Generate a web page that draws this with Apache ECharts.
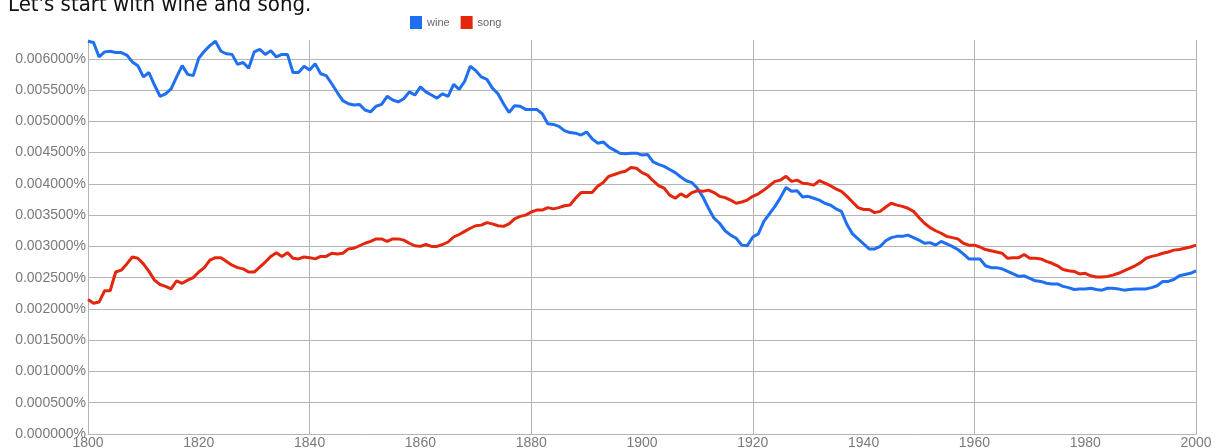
<!DOCTYPE html>
<html>
<head>
<meta charset="utf-8">
<script src="https://cdn.jsdelivr.net/npm/echarts@6/dist/echarts.min.js"></script>
<style>
html,body{margin:0;padding:0;background:#fff;}
#c{width:1217px;height:448px;}
</style>
</head>
<body>
<div id="c"></div>
<script>
const titleText = "Let's start with wine and song.";
const seriesNames = ['wine', 'song'];
const startYear = 1800;
const endYear = 2000;
const xTickYears = [1800, 1820, 1840, 1860, 1880, 1900, 1920, 1940, 1960, 1980, 2000];

const wine = [
  0.00628,0.00626,0.00603,0.00611,0.00612,0.0061,0.0061,0.00606,0.00595,0.00589,
  0.00571,0.00578,0.00558,0.0054,0.00544,0.00552,0.00571,0.00589,0.00575,0.00573,
  0.00601,0.00612,0.00621,0.00628,0.00612,0.00608,0.00607,0.00591,0.00594,0.00585,
  0.00611,0.00615,0.00607,0.00613,0.00603,0.00607,0.00607,0.00578,0.00578,0.00588,
  0.00582,0.00592,0.00576,0.00573,0.0056,0.00546,0.00533,0.00528,0.00526,0.00527,
  0.00518,0.00515,0.00524,0.00527,0.0054,0.00534,0.00531,0.00536,0.00547,0.00542,
  0.00555,0.00547,0.00542,0.00537,0.00544,0.0054,0.00559,0.00551,0.00564,0.00588,
  0.00581,0.00571,0.00567,0.00553,0.00544,0.00528,0.00514,0.00525,0.00524,0.00519,
  0.00519,0.00519,0.00512,0.00496,0.00495,0.00492,0.00485,0.00482,0.00481,0.00478,
  0.00483,0.00472,0.00465,0.00467,0.00459,0.00454,0.00449,0.00448,0.00449,0.00449,
  0.00446,0.00447,0.00435,0.00431,0.00428,0.00423,0.00418,0.00411,0.00405,0.00402,
  0.00393,0.00379,0.00361,0.00345,0.00337,0.00325,0.00318,0.00313,0.00302,0.00301,
  0.00315,0.0032,0.0034,0.00352,0.00364,0.00378,0.00394,0.00388,0.00389,0.00379,
  0.0038,0.00377,0.00374,0.00369,0.00366,0.0036,0.00356,0.00335,0.0032,0.00312,
  0.00304,0.00296,0.00296,0.003,0.00309,0.00314,0.00316,0.00316,0.00318,0.00314,
  0.0031,0.00305,0.00306,0.00302,0.00308,0.00304,0.003,0.00295,0.00288,0.0028,
  0.0028,0.0028,0.00269,0.00266,0.00266,0.00264,0.0026,0.00256,0.00252,0.00253,
  0.00249,0.00245,0.00244,0.00241,0.0024,0.0024,0.00236,0.00234,0.00231,0.00232,
  0.00232,0.00233,0.00231,0.0023,0.00233,0.00233,0.00232,0.0023,0.00231,0.00232,
  0.00232,0.00232,0.00234,0.00237,0.00244,0.00244,0.00247,0.00253,0.00255,0.00257,
  0.00261
];

const song = [
  0.00215,0.00209,0.00211,0.00229,0.00229,0.00259,0.00262,0.00272,0.00283,0.00281,
  0.00272,0.0026,0.00246,0.00239,0.00236,0.00232,0.00245,0.00241,0.00246,0.0025,
  0.00259,0.00266,0.00278,0.00282,0.00282,0.00276,0.0027,0.00266,0.00264,0.00259,
  0.00259,0.00267,0.00275,0.00284,0.0029,0.00284,0.0029,0.00281,0.0028,0.00283,
  0.00282,0.0028,0.00284,0.00284,0.00289,0.00288,0.00289,0.00296,0.00297,0.00301,
  0.00305,0.00308,0.00312,0.00312,0.00308,0.00312,0.00312,0.0031,0.00305,0.00301,
  0.003,0.00303,0.003,0.003,0.00303,0.00307,0.00315,0.00319,0.00324,0.00329,
  0.00333,0.00334,0.00338,0.00336,0.00333,0.00332,0.00336,0.00344,0.00348,0.0035,
  0.00355,0.00358,0.00358,0.00362,0.0036,0.00362,0.00365,0.00366,0.00377,0.00386,
  0.00386,0.00386,0.00396,0.00402,0.00412,0.00415,0.00418,0.0042,0.00426,0.00425,
  0.00418,0.00414,0.00405,0.00397,0.00393,0.00382,0.00377,0.00384,0.00379,0.00386,
  0.00389,0.00388,0.0039,0.00386,0.0038,0.00378,0.00374,0.00369,0.00371,0.00374,
  0.0038,0.00384,0.0039,0.00397,0.00404,0.00406,0.00412,0.00404,0.00406,0.00401,
  0.004,0.00398,0.00405,0.00401,0.00397,0.00392,0.00388,0.0038,0.00371,0.00362,
  0.00359,0.00359,0.00354,0.00356,0.00363,0.00369,0.00366,0.00364,0.00361,0.00356,
  0.00346,0.00337,0.0033,0.00325,0.00321,0.00316,0.00314,0.00312,0.00305,0.00302,
  0.00302,0.00299,0.00295,0.00293,0.00291,0.00289,0.00281,0.00282,0.00282,0.00287,
  0.00281,0.00281,0.0028,0.00276,0.00273,0.00269,0.00263,0.00261,0.0026,0.00256,
  0.00257,0.00253,0.00251,0.00251,0.00252,0.00254,0.00257,0.00261,0.00265,0.00269,
  0.00274,0.00281,0.00284,0.00286,0.00289,0.00291,0.00294,0.00295,0.00297,0.00299,
  0.00302
];

const toPairs = arr => arr.map((v, i) => [startYear + i, v]);
const gridColor = '#b4b4b4';
const labelColor = '#7a7a7a';
const labelFont = 'Liberation Sans, Arial, sans-serif';

const chart = echarts.init(document.getElementById('c'), null, {renderer: 'canvas'});
chart.setOption({
  animation: false,
  backgroundColor: '#fff',
  color: ['#1e6ff1', '#e3260c'],
  graphic: [{
    type: 'text',
    left: 8,
    top: -6,
    style: {
      text: titleText,
      font: '22px "DejaVu Sans Condensed", "DejaVu Sans", sans-serif',
      fill: '#111'
    }
  }],
  legend: {
    left: 405,
    top: 11,
    itemWidth: 12,
    itemHeight: 13,
    itemGap: 11,
    icon: 'rect',
    data: seriesNames,
    textStyle: {color: '#666', fontSize: 11, fontFamily: labelFont}
  },
  grid: {left: 88, right: 21, top: 40, bottom: 14, containLabel: false, outerBoundsMode: 'none'},
  xAxis: [{
    type: 'value',
    min: startYear,
    max: endYear,
    interval: 20,
    axisLine: {show: true, lineStyle: {color: gridColor, width: 1}},
    axisTick: {show: false},
    splitLine: {show: false},
    axisLabel: {
      color: labelColor, fontSize: 14, fontFamily: labelFont, margin: 2,
      formatter: v => xTickYears.includes(v) ? String(v) : ''
    }
  }, {
    type: 'value',
    min: startYear,
    max: endYear,
    interval: 40,
    position: 'bottom',
    axisLine: {show: false},
    axisTick: {show: false},
    axisLabel: {show: false},
    splitLine: {show: true, showMinLine: false, lineStyle: {color: gridColor, width: 1}}
  }],
  yAxis: {
    type: 'value',
    min: 0,
    max: 0.0063,
    interval: 0.0005,
    axisLine: {show: true, lineStyle: {color: gridColor, width: 1}},
    axisTick: {show: false},
    splitLine: {show: true, showMaxLine: false, showMinLine: false, lineStyle: {color: gridColor, width: 1}},
    axisLabel: {
      color: labelColor, fontSize: 14, fontFamily: labelFont, margin: 2,
      showMaxLabel: false,
      padding: [5, 0, 0, 0],
      formatter: v => v.toFixed(6) + '%'
    }
  },
  series: [
    {name: seriesNames[0], type: 'line', xAxisIndex: 0, data: toPairs(wine), showSymbol: false, symbol: 'none', lineStyle: {width: 3}},
    {name: seriesNames[1], type: 'line', xAxisIndex: 0, data: toPairs(song), showSymbol: false, symbol: 'none', lineStyle: {width: 3}}
  ]
});
</script>
</body>
</html>
